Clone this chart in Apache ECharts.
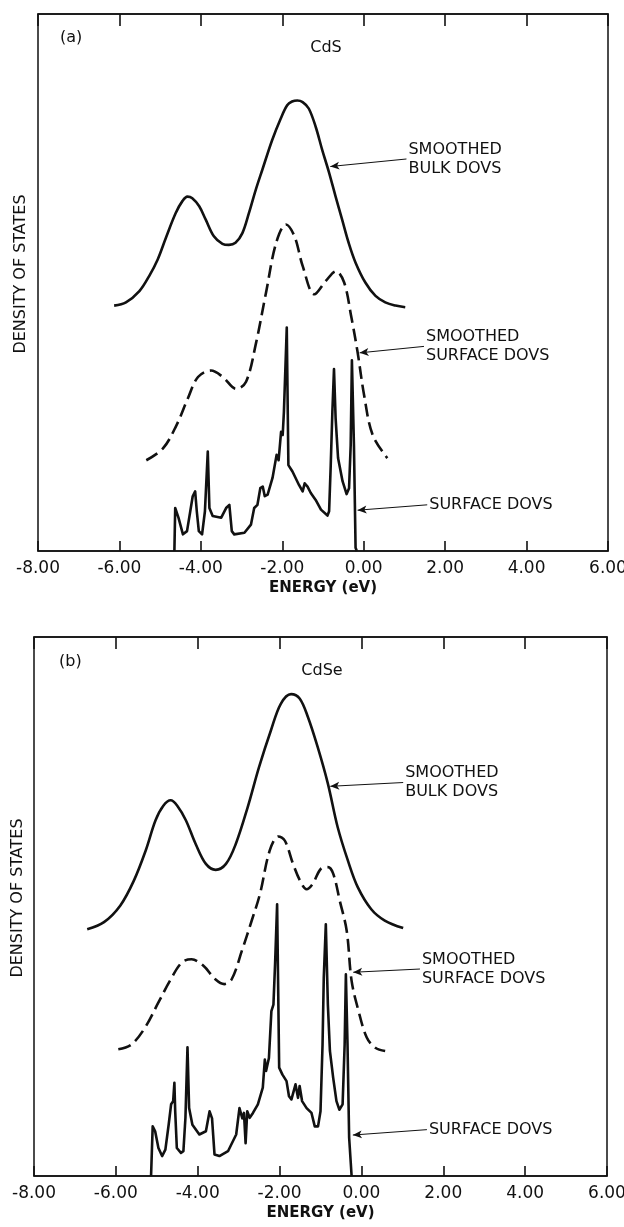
<!DOCTYPE html>
<html>
<head>
<meta charset="utf-8">
<script src="https://cdn.jsdelivr.net/npm/echarts@6/dist/echarts.min.js"></script>
<style>
  html, body { margin: 0; padding: 0; background: #fff; }
  #chart { width: 624px; height: 1227px; }
</style>
</head>
<body>
<div id="chart"></div>
<script>
// Energy axis ticks (eV)
const energyTicks = [-8, -6, -4, -2, 0, 2, 4, 6];

// ---- (a) CdS : [energy eV, density of states (arb. units, curves offset)] ----
const bulkA = [
  [-6.13,45.7],[-5.84,46.3],[-5.51,48.4],[-5.27,51.2],[-5.06,54.3],[-4.86,58.3],[-4.62,62.9],
  [-4.45,65.2],[-4.33,66.0],[-4.21,65.7],[-4.04,64.2],[-3.88,61.7],[-3.68,58.6],[-3.47,57.2],
  [-3.31,57.0],[-3.15,57.4],[-2.98,59.2],[-2.82,62.9],[-2.65,67.3],[-2.49,71.0],[-2.25,76.5],
  [-2.04,80.5],[-1.88,83.0],[-1.76,83.7],[-1.63,83.9],[-1.50,83.6],[-1.35,82.4],[-1.18,79.0],
  [-1.02,74.7],[-0.86,70.7],[-0.69,66.0],[-0.53,61.7],[-0.37,57.4],[-0.20,53.7],[0.04,50.0],
  [0.29,47.5],[0.53,46.3],[0.78,45.7],[1.02,45.4]
];
const smoothSurfA = [
  [-5.34,16.9],[-4.93,19.1],[-4.60,23.4],[-4.32,28.4],[-4.07,32.4],[-3.75,33.6],[-3.46,32.4],
  [-3.13,30.2],[-2.89,31.5],[-2.64,38.9],[-2.40,48.1],[-2.15,57.4],[-1.91,60.8],[-1.70,58.6],
  [-1.50,53.1],[-1.21,47.8],[-0.93,50.3],[-0.68,52.1],[-0.48,50.0],[-0.31,43.8],[-0.15,37.0],
  [0.01,29.0],[0.22,21.6],[0.58,17.3]
];
const surfA = [
  [-4.65,0],[-4.63,8.0],[-4.55,6.2],[-4.44,3.1],[-4.34,3.7],[-4.26,7.4],[-4.20,10.2],[-4.14,11.1],
  [-4.10,7.4],[-4.05,3.7],[-3.97,3.1],[-3.90,7.4],[-3.83,18.5],[-3.79,8.0],[-3.71,6.5],[-3.50,6.2],
  [-3.38,8.0],[-3.30,8.6],[-3.24,3.7],[-3.18,3.1],[-2.93,3.4],[-2.77,4.9],[-2.69,8.0],[-2.61,8.6],
  [-2.54,11.7],[-2.48,12.0],[-2.43,10.2],[-2.36,10.5],[-2.24,13.6],[-2.14,17.9],[-2.09,16.9],
  [-2.03,22.2],[-1.99,21.6],[-1.96,25.9],[-1.89,41.6],[-1.85,16.0],[-1.75,14.8],[-1.59,12.3],
  [-1.50,11.1],[-1.45,12.6],[-1.38,12.0],[-1.30,10.8],[-1.18,9.5],[-1.05,7.7],[-0.89,6.6],
  [-0.85,7.4],[-0.81,16.0],[-0.77,25.9],[-0.73,33.9],[-0.69,24.7],[-0.63,17.3],[-0.52,13.0],
  [-0.42,10.6],[-0.36,11.7],[-0.32,19.7],[-0.29,35.5],[-0.24,19.7],[-0.20,0.6],[-0.17,0]
];

// ---- (b) CdSe ----
const bulkB = [
  [-6.70,45.8],[-6.29,47.1],[-5.89,50.2],[-5.56,54.8],[-5.27,60.4],[-5.03,66.0],[-4.84,68.7],
  [-4.66,69.7],[-4.50,68.7],[-4.29,66.0],[-4.05,61.6],[-3.80,57.9],[-3.56,56.8],[-3.31,57.9],
  [-3.07,61.6],[-2.78,68.4],[-2.50,75.9],[-2.21,82.7],[-1.97,87.6],[-1.72,89.4],[-1.51,88.6],
  [-1.31,85.2],[-1.07,79.6],[-0.82,72.8],[-0.58,64.7],[-0.33,58.5],[-0.09,53.6],[0.24,49.5],
  [0.57,47.4],[1.02,46.0]
];
const smoothSurfB = [
  [-5.94,23.5],[-5.62,24.4],[-5.29,27.5],[-4.96,32.2],[-4.68,36.2],[-4.39,39.6],[-4.15,40.2],
  [-3.86,39.0],[-3.57,36.5],[-3.35,35.6],[-3.17,36.5],[-2.92,41.8],[-2.68,47.4],[-2.48,52.3],
  [-2.24,60.4],[-2.03,63.0],[-1.87,62.2],[-1.67,57.9],[-1.50,54.8],[-1.34,53.2],[-1.19,54.2],
  [-0.99,57.0],[-0.82,57.3],[-0.69,56.1],[-0.53,51.1],[-0.36,45.5],[-0.24,36.2],[-0.07,30.6],
  [0.13,25.7],[0.34,23.8],[0.58,23.2]
];
const surfB = [
  [-5.14,0],[-5.10,9.2],[-5.04,8.3],[-4.96,5.2],[-4.87,3.7],[-4.79,4.9],[-4.71,9.5],[-4.65,13.3],
  [-4.60,13.9],[-4.57,17.3],[-4.55,12.0],[-4.51,5.2],[-4.41,4.3],[-4.35,4.6],[-4.30,10.8],
  [-4.25,23.9],[-4.21,12.6],[-4.13,9.5],[-3.96,7.7],[-3.80,8.3],[-3.71,12.0],[-3.65,10.7],
  [-3.59,4.0],[-3.47,3.7],[-3.26,4.6],[-3.06,7.7],[-2.98,12.6],[-2.91,10.7],[-2.87,11.7],
  [-2.83,6.1],[-2.79,12.0],[-2.73,10.8],[-2.65,11.7],[-2.53,13.3],[-2.41,16.4],[-2.36,21.6],
  [-2.33,19.5],[-2.26,21.9],[-2.20,30.6],[-2.15,31.8],[-2.11,39.3],[-2.06,50.4],[-2.01,20.1],
  [-1.93,18.8],[-1.83,17.6],[-1.77,14.8],[-1.71,14.2],[-1.61,17.0],[-1.55,14.5],[-1.51,16.7],
  [-1.45,13.9],[-1.34,12.6],[-1.22,11.7],[-1.14,9.2],[-1.06,9.2],[-1.00,12.0],[-0.95,24.4],
  [-0.92,36.8],[-0.87,46.7],[-0.82,31.8],[-0.77,23.2],[-0.69,18.2],[-0.61,13.9],[-0.54,12.3],
  [-0.46,13.3],[-0.41,24.4],[-0.38,37.4],[-0.34,24.4],[-0.30,7.1],[-0.24,0]
];

// ---- drawing ----
const FONT = '"DejaVu Sans", "Liberation Sans", sans-serif';
const INK = '#111';

const chart = echarts.init(document.getElementById('chart'), null, { renderer: 'canvas' });

const grids = [
  { left: 38, top: 14, width: 570, height: 537 },
  { left: 34, top: 637, width: 573, height: 539 }
];

function xAxes(gi) {
  const common = {
    gridIndex: gi, type: 'value',
    min: energyTicks[0], max: energyTicks[energyTicks.length - 1],
    interval: energyTicks[1] - energyTicks[0],
    splitLine: { show: false },
    axisLine: { show: true, onZero: false, lineStyle: { color: INK, width: 1.5 } }
  };
  return [
    Object.assign({}, common, {
      position: 'bottom',
      axisTick: { show: true, inside: true, length: 10, lineStyle: { color: INK, width: 1.6 } },
      axisLabel: {
        show: true, margin: 9, color: INK, fontSize: 17, fontFamily: FONT,
        formatter: v => v.toFixed(2)
      },
      name: 'ENERGY (eV)', nameLocation: 'middle', nameGap: 30,
      nameTextStyle: { color: INK, fontSize: 15, fontWeight: 'bold', fontFamily: FONT }
    }),
    Object.assign({}, common, {
      position: 'top',
      axisTick: { show: true, inside: true, length: 12, lineStyle: { color: INK, width: 1.6 } },
      axisLabel: { show: false }
    })
  ];
}

function yAxis(gi) {
  return {
    gridIndex: gi, type: 'value', min: 0, max: 100,
    axisLine: { show: false },
    axisTick: { show: false }, axisLabel: { show: false }, splitLine: { show: false }
  };
}

// arrow from the label anchor to the curve, plus the label text itself
function callout(text, from, to) {
  return {
    markLine: {
      silent: true, animation: false,
      symbol: ['none', 'arrow'], symbolSize: [6, 9],
      lineStyle: { color: INK, width: 1, type: 'solid' },
      label: { show: false },
      data: [[{ coord: from }, { coord: to }]]
    },
    markPoint: {
      silent: true, animation: false,
      symbol: 'circle', symbolSize: 0,
      data: [{ coord: from }],
      label: {
        show: true, position: 'right', distance: 2, formatter: text,
        color: INK, fontSize: 16, lineHeight: 19, fontFamily: FONT, align: 'left'
      }
    }
  };
}

function curve(data, xi, yi, dashed, smooth, extra) {
  return Object.assign({
    type: 'line', data: data, xAxisIndex: xi, yAxisIndex: yi,
    smooth: smooth, showSymbol: false, symbol: 'none', animation: false,
    lineStyle: { color: INK, width: 2.6, type: dashed ? [13, 6] : 'solid', cap: 'butt', join: 'round' }
  }, extra);
}

function textEl(text, x, y, align, rotation) {
  return {
    type: 'text', x: x, y: y, rotation: rotation || 0,
    style: {
      text: text, fill: INK, font: '16px ' + FONT,
      align: align, verticalAlign: 'middle', textAlign: align, textVerticalAlign: 'middle'
    }
  };
}

const option = {
  backgroundColor: '#fff',
  grid: grids.map(g => Object.assign({
    show: true, borderColor: INK, borderWidth: 1.5, backgroundColor: 'transparent',
    containLabel: false, outerBoundsMode: 'none'
  }, g)),
  xAxis: [...xAxes(0), ...xAxes(1)],
  yAxis: [yAxis(0), yAxis(1)],
  series: [
    curve(bulkA, 0, 0, false, 0.35, callout('SMOOTHED\nBULK DOVS', [1.05, 73.0], [-0.82, 71.6])),
    curve(smoothSurfA, 0, 0, true, 0.35, callout('SMOOTHED\nSURFACE DOVS', [1.48, 38.1], [-0.10, 36.9])),
    curve(surfA, 0, 0, false, false, callout('SURFACE DOVS', [1.56, 8.6], [-0.15, 7.6])),
    curve(bulkB, 2, 1, false, 0.35, callout('SMOOTHED\nBULK DOVS', [1.02, 73.0], [-0.76, 72.3])),
    curve(smoothSurfB, 2, 1, true, 0.35, callout('SMOOTHED\nSURFACE DOVS', [1.43, 38.4], [-0.20, 37.8])),
    curve(surfB, 2, 1, false, false, callout('SURFACE DOVS', [1.60, 8.6], [-0.21, 7.6]))
  ],
  graphic: [
    textEl('(a)', 60, 38, 'left'),
    textEl('CdS', 326, 48, 'center'),
    textEl('DENSITY OF STATES', 21, 274, 'center', Math.PI / 2),
    textEl('(b)', 59, 662, 'left'),
    textEl('CdSe', 322, 671, 'center'),
    textEl('DENSITY OF STATES', 18, 898, 'center', Math.PI / 2)
  ]
};

chart.setOption(option);
</script>
</body>
</html>
